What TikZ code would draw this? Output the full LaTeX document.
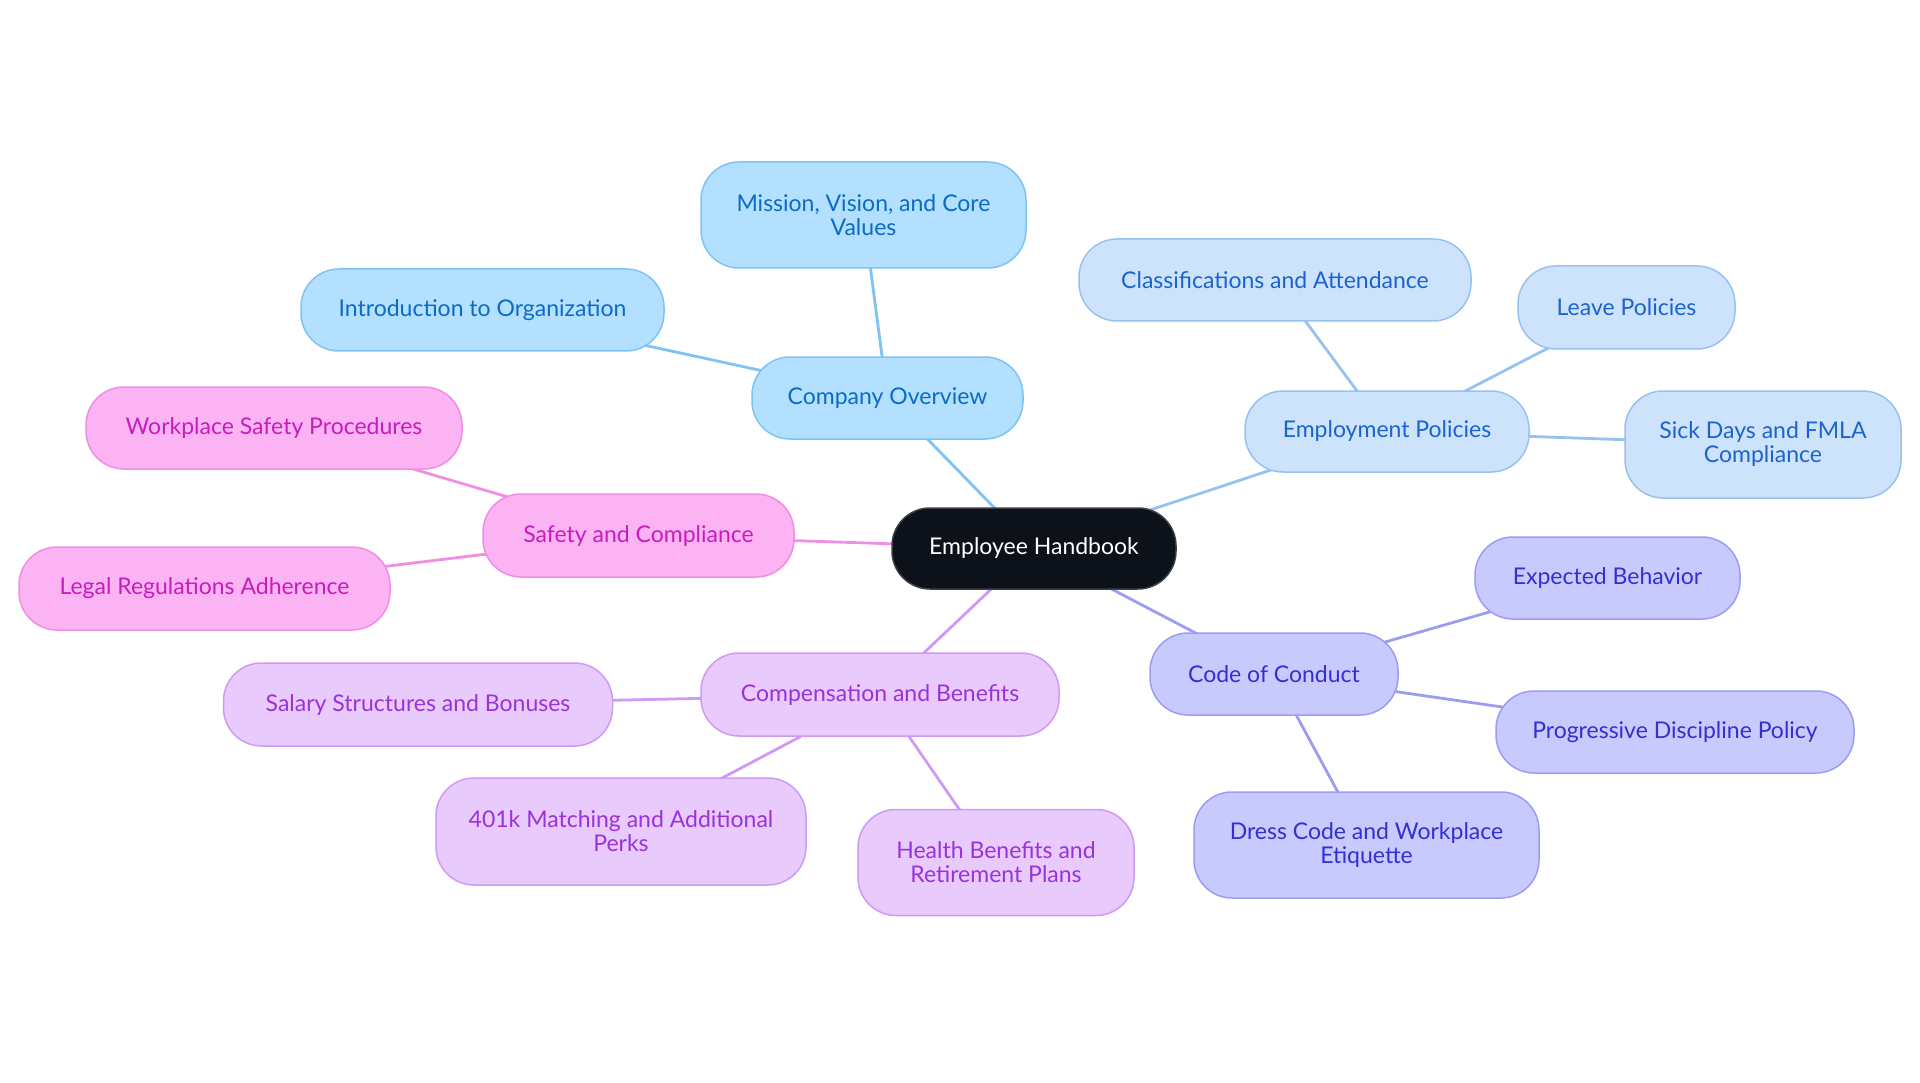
\documentclass[tikz,border=0pt]{standalone}
\usepackage{fontspec}
\setmainfont{Lato}
\usetikzlibrary{backgrounds}
\definecolor{rootfill}{HTML}{0D121A}
\definecolor{rootdraw}{HTML}{3A3F47}
\definecolor{cofill}{HTML}{B3E0FE}
\definecolor{codraw}{HTML}{7EC3F3}
\definecolor{cotext}{HTML}{0B6BC5}
\definecolor{epfill}{HTML}{CDE3FB}
\definecolor{epdraw}{HTML}{96C2F0}
\definecolor{eptext}{HTML}{1B63D0}
\definecolor{ccfill}{HTML}{C8C9FC}
\definecolor{ccdraw}{HTML}{9A9DF2}
\definecolor{cctext}{HTML}{3330D3}
\definecolor{cbfill}{HTML}{E8CAFC}
\definecolor{cbdraw}{HTML}{CF9AF5}
\definecolor{cbtext}{HTML}{9A32DC}
\definecolor{scfill}{HTML}{FCB3F4}
\definecolor{scdraw}{HTML}{F08EE4}
\definecolor{sctext}{HTML}{C91CC0}
\tikzset{
  mnode/.style={rectangle, rounded corners=38, line width=1.5, align=center,
    inner sep=0, font=\fontsize{23}{24}\selectfont},
  rootbox/.style={mnode, fill=rootfill, draw=rootdraw, text=white},
  cobox/.style={mnode, fill=cofill, draw=codraw, text=cotext},
  epbox/.style={mnode, fill=epfill, draw=epdraw, text=eptext},
  ccbox/.style={mnode, fill=ccfill, draw=ccdraw, text=cctext},
  cbbox/.style={mnode, fill=cbfill, draw=cbdraw, text=cbtext},
  scbox/.style={mnode, fill=scfill, draw=scdraw, text=sctext},
  conn/.style={line width=2.8},
}
\begin{document}
\begin{tikzpicture}[x=1pt,y=1pt]
\useasboundingbox (0,0) rectangle (1920,-1083);
% root
\node[rootbox, minimum width=284, minimum height=81] (root) at (1034,-548.5) {Employee Handbook};
% company overview
\node[cobox, minimum width=271, minimum height=82] (co) at (887.5,-398) {Company Overview};
\node[cobox, minimum width=325, minimum height=106] (mv) at (863.5,-215) {Mission, Vision, and Core\\Values};
\node[cobox, minimum width=363, minimum height=82] (intro) at (482.5,-310) {Introduction to Organization};
% employment policies
\node[epbox, minimum width=284, minimum height=81] (ep) at (1387,-431.5) {Employment Policies};
\node[epbox, minimum width=392, minimum height=82] (cls) at (1275,-280) {Classifications and Attendance};
\node[epbox, minimum width=217, minimum height=83] (leave) at (1626.5,-307.5) {Leave Policies};
\node[epbox, minimum width=276, minimum height=107] (sick) at (1763,-444.5) {Sick Days and FMLA\\Compliance};
% code of conduct
\node[ccbox, minimum width=248, minimum height=82] (cc) at (1274,-674) {Code of Conduct};
\node[ccbox, minimum width=265, minimum height=82] (exp) at (1607.5,-578) {Expected Behavior};
\node[ccbox, minimum width=358, minimum height=82] (prog) at (1675,-732) {Progressive Discipline Policy};
\node[ccbox, minimum width=345, minimum height=106] (dress) at (1366.5,-845) {Dress Code and Workplace\\Etiquette};
% compensation and benefits
\node[cbbox, minimum width=358, minimum height=83] (cb) at (880,-694.5) {Compensation and Benefits};
\node[cbbox, minimum width=389, minimum height=83] (sal) at (418,-704.5) {Salary Structures and Bonuses};
\node[cbbox, minimum width=370, minimum height=107] (k401) at (621,-831.5) {401k Matching and Additional\\Perks};
\node[cbbox, minimum width=276, minimum height=106] (health) at (996,-862.5) {Health Benefits and\\Retirement Plans};
% safety and compliance
\node[scbox, minimum width=311, minimum height=83] (sc) at (638.5,-535.5) {Safety and Compliance};
\node[scbox, minimum width=376, minimum height=82] (wsp) at (274,-428) {Workplace Safety Procedures};
\node[scbox, minimum width=371, minimum height=83] (legal) at (204.5,-588.5) {Legal Regulations Adherence};
\begin{scope}[on background layer]
\draw[conn, draw=codraw] (root.center) -- (co.center);
\draw[conn, draw=codraw] (co.center) -- (mv.center);
\draw[conn, draw=codraw] (co.center) -- (intro.center);
\draw[conn, draw=epdraw] (root.center) -- (ep.center);
\draw[conn, draw=epdraw] (ep.center) -- (cls.center);
\draw[conn, draw=epdraw] (ep.center) -- (leave.center);
\draw[conn, draw=epdraw] (ep.center) -- (sick.center);
\draw[conn, draw=ccdraw] (root.center) -- (cc.center);
\draw[conn, draw=ccdraw] (cc.center) -- (exp.center);
\draw[conn, draw=ccdraw] (cc.center) -- (prog.center);
\draw[conn, draw=ccdraw] (cc.center) -- (dress.center);
\draw[conn, draw=cbdraw] (root.center) -- (cb.center);
\draw[conn, draw=cbdraw] (cb.center) -- (sal.center);
\draw[conn, draw=cbdraw] (cb.center) -- (k401.center);
\draw[conn, draw=cbdraw] (cb.center) -- (health.center);
\draw[conn, draw=scdraw] (root.center) -- (sc.center);
\draw[conn, draw=scdraw] (sc.center) -- (wsp.center);
\draw[conn, draw=scdraw] (sc.center) -- (legal.center);
\end{scope}
\end{tikzpicture}
\end{document}
